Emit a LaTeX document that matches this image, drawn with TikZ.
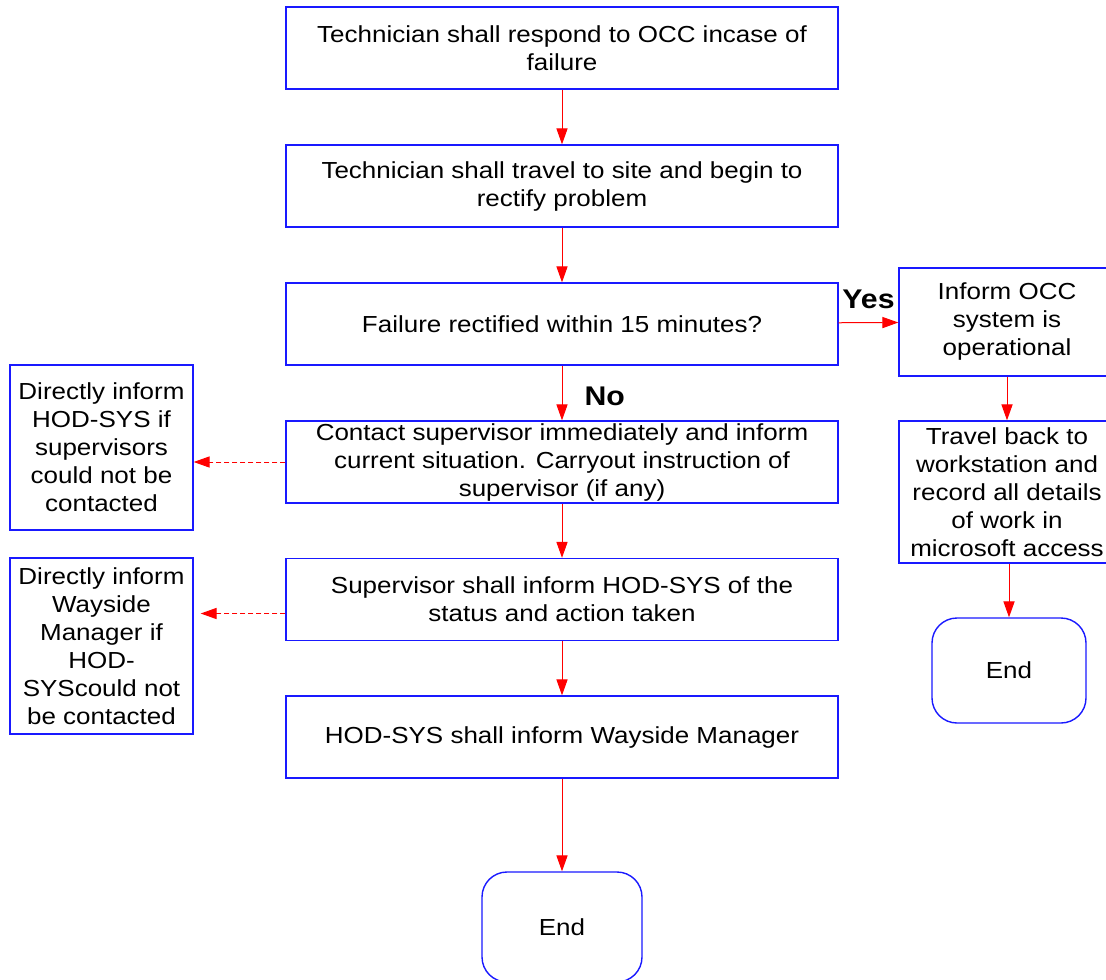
\documentclass[tikz,border=0pt]{standalone}
\usepackage{fontspec}
\setmainfont{Liberation Sans}[FakeStretch=1.12]
\usetikzlibrary{arrows.meta}
\definecolor{flowblue}{RGB}{25,25,255}
\definecolor{flowred}{RGB}{255,0,0}
\begin{document}
\begin{tikzpicture}[x=0.5pt,y=-0.5pt,
    procbox/.style={draw=flowblue,line width=0.7pt,inner sep=0pt,align=center,
      font=\fontsize{11.6}{14}\selectfont},
    mainbox/.style={procbox,minimum width=276pt,minimum height=41pt},
    sidebox/.style={procbox,minimum width=91.5pt},
    rightbox/.style={procbox,minimum width=108pt},
    endbox/.style={procbox,rounded corners=12.5pt},
    flowarrow/.style={draw=flowred,line width=0.5pt,-{Triangle[length=8pt,width=5.6pt]}},
    dasharrow/.style={flowarrow,dash pattern=on 2.5pt off 1.5pt},
    answer/.style={inner sep=0pt,font=\fontsize{13.5}{16}\selectfont\bfseries}]
  \useasboundingbox (0,0) rectangle (1106,979);
  \clip (0,0) rectangle (1106,979);
  % main column
  \node[mainbox] (respond) at (562,48) {Technician shall respond to OCC incase of\\failure};
  \node[mainbox] (travel) at (562,186) {Technician shall travel to site and begin to\\rectify problem};
  \node[mainbox] (rectified) at (562,324) {Failure rectified within 15 minutes?};
  \node[mainbox] (contact) at (562,462) {Contact supervisor immediately and inform\\current situation. Carryout instruction of\\supervisor (if any)};
  \node[mainbox] (supinform) at (562,599.5) {Supervisor shall inform HOD-SYS of the\\status and action taken};
  \node[mainbox] (hodinform) at (562,737) {HOD-SYS shall inform Wayside Manager};
  \node[endbox,minimum width=80pt,minimum height=55pt] (endmain) at (562,927) {End};
  % right column
  \node[rightbox,minimum height=54pt] (informocc) at (1007,322) {Inform OCC\\system is\\operational};
  \node[rightbox,minimum height=71pt] (record) at (1007,492) {Travel back to\\workstation and\\record all details\\of work in\\microsoft access};
  \node[endbox,minimum width=77pt,minimum height=52.5pt] (endside) at (1009,670.5) {End};
  % left column
  \node[sidebox,minimum height=82.5pt] (directhod) at (101.5,447.5) {Directly inform\\HOD-SYS if\\supervisors\\could not be\\contacted};
  \node[sidebox,minimum height=88pt] (directmgr) at (101.5,646) {Directly inform\\Wayside\\Manager if\\HOD-\\SYScould not\\be contacted};
  % connectors
  \draw[flowarrow] (respond) -- (travel);
  \draw[flowarrow] (travel) -- (rectified);
  \draw[flowarrow] (rectified) -- node[answer,pos=0.56,right=11pt] {No} (contact);
  \draw[flowarrow] (rectified) -- node[answer,midway,above=6.5pt] {Yes} (informocc);
  \draw[flowarrow] (contact) -- (supinform);
  \draw[flowarrow] (supinform) -- (hodinform);
  \draw[flowarrow] (hodinform) -- (endmain);
  \draw[flowarrow] (informocc) -- (record);
  \draw[flowarrow] (record.south -| endside.north) -- (endside.north);
  \draw[dasharrow] (contact.west) -- (contact.west -| directhod.east);
  \coordinate (mgrlink) at ([yshift=-7pt]supinform.west);
  \draw[dasharrow,shorten >=3.5pt] (mgrlink) -- (mgrlink -| directmgr.east);
\end{tikzpicture}
\end{document}
